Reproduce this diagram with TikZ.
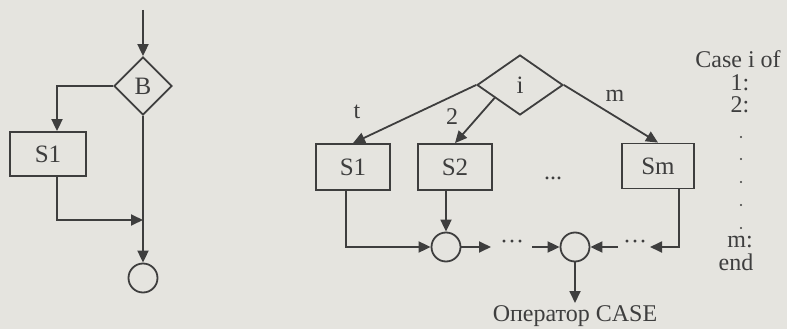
\documentclass[tikz,border=0pt]{standalone}
\usepackage{fontspec}
\setmainfont{Liberation Serif}
\usetikzlibrary{arrows.meta,shapes.geometric,calc}
\definecolor{paper}{RGB}{229,228,223}
\definecolor{ink}{RGB}{62,62,62}
\begin{document}
\begin{tikzpicture}[x=1pt,y=-1pt,
  flow/.style={draw=ink, line width=1.8pt, -{Triangle[length=12pt,width=11pt]}},
  block/.style={draw=ink, line width=1.8pt, rectangle, inner sep=0pt, text=ink,
                font=\fontsize{25}{25}\selectfont},
  decision/.style={draw=ink, line width=1.8pt, diamond, inner sep=0pt, text=ink,
                   font=\fontsize{25}{25}\selectfont},
  joint/.style={draw=ink, line width=1.8pt, circle, inner sep=0pt, minimum size=29pt},
  lbl/.style={text=ink, inner sep=0pt, font=\fontsize{24}{24}\selectfont},
  dotmark/.style={fill=ink}]
\fill[paper] (0,0) rectangle (787,329);
\useasboundingbox (0,0) rectangle (787,329);

% ---- IF-THEN structure ----
\coordinate (in) at (143,10);
\node[decision, minimum width=58pt, minimum height=58pt] (B) at (143,86) {B};
\node[block, minimum width=76pt, minimum height=44pt] (S1a) at (48,154) {S1};
\coordinate (merge) at (143,220);
\node[joint] (E) at (143,278) {};

\draw[flow] (in) -- (B.north);
\draw[flow] (B.west) -| ([xshift=9pt]S1a.north);
\draw[flow] ([xshift=9pt]S1a.south) |- (merge);
\draw[flow] (B.south) -- (E.north);

% ---- CASE structure ----
\node[decision, minimum width=86pt, minimum height=60pt] (I) at (520,85) {i};
\node[block, minimum width=74pt, minimum height=46pt] (S1) at (353,167) {S1};
\node[block, minimum width=74pt, minimum height=46pt] (S2) at (455,167) {S2};
\node[block, minimum width=72pt, minimum height=45pt] (Sm) at (658,166) {Sm};
\node[lbl, anchor=base] (gap) at (553,179) {...};

\draw[flow] (I.west) -- (S1.north);
\draw[flow] ($(I.west)!0.42!(I.south)$) -- (S2.north);
\draw[flow] (I.east) -- (Sm.north);

\node[lbl] (lt) at (357,112) {t};
\node[lbl] (l2) at (452,117) {2};
\node[lbl] (lm) at (615,96) {m};

\node[joint] (C1) at (446,247) {};
\node[joint] (C2) at (575,247) {};

\draw[flow] ([xshift=-7pt]S1.south) |- (C1.west);
\draw[flow] (S2.south -| C1) -- (C1.north);

\coordinate (d1) at (491,247);
\coordinate (d2) at (532,247);
\coordinate (d3) at (618,247);
\coordinate (d4) at (650,247);
\draw[flow] (C1.east) -- (d1);
\node[lbl] (dots1) at (512,245) {···};
\draw[flow] (d2) -- (C2.west);
\draw[flow] (d3) -- (C2.east);
\node[lbl] (dots2) at (635,245) {···};
\draw[flow] ([xshift=21pt]Sm.south) |- (d4);

\coordinate (out) at (575,303);
\draw[flow] (C2.south) -- (out);
\node[lbl, anchor=north] (title) at (575,305) {Оператор CASE};

% ---- Pascal text ----
\node[lbl] (t0) at (738,59) {Case i of};
\node[lbl] (t1) at (740,83) {1:};
\node[lbl] (t2) at (740,105) {2:};
\foreach \yy in {137,159,182,205,228}
  \fill[dotmark] (741,\yy) circle (1.2pt);
\node[lbl] (tm) at (740,242) {m:};
\node[lbl] (te) at (736,262) {end};
\end{tikzpicture}
\end{document}
